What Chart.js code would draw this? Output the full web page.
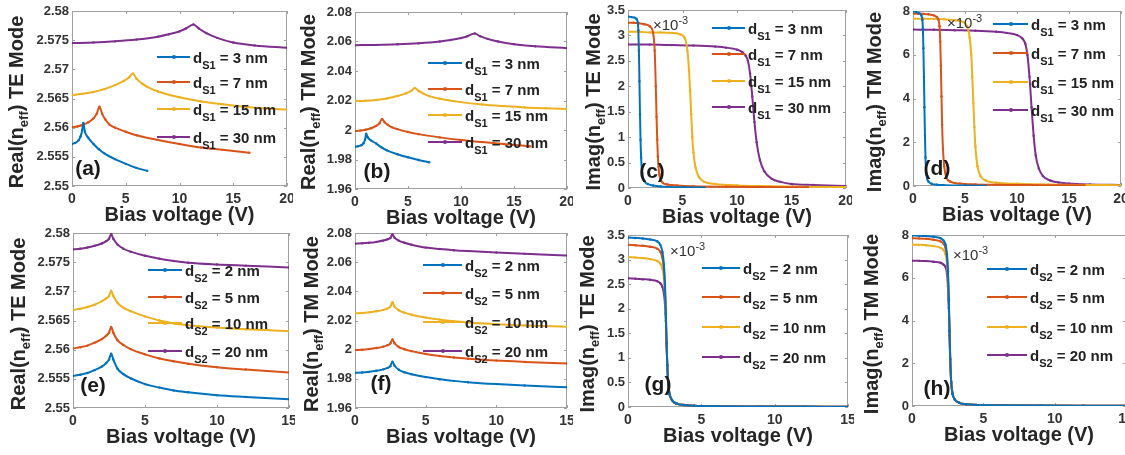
<!DOCTYPE html>
<html>
<head>
<meta charset="utf-8">
<script src="https://cdn.jsdelivr.net/npm/chart.js@4.4.1/dist/chart.umd.min.js"></script>
<style>
  html, body { margin: 0; padding: 0; background: #fff; width: 1125px; height: 455px; overflow: hidden; position: relative; }
  .pane { position: absolute; }
  .lg { position: absolute; height: 20px; display: flex; align-items: center; white-space: nowrap;
        font: bold 15px "Liberation Sans", Arial, sans-serif; color: #222; }
  .sw { height: 2px; position: relative; margin-right: 3px; }
  .sw i { position: absolute; left: 50%; top: 50%; width: 4px; height: 4px; border-radius: 50%; transform: translate(-50%, -50%); }
  .lg sub { font-size: 11px; vertical-align: -6px; line-height: 0; }
  .ytl { position: absolute; white-space: nowrap; transform: translate(-50%, -50%) rotate(-90deg);
         font: bold 20px "Liberation Sans", Arial, sans-serif; color: #262626; }
  .ytl sub { font-size: 13px; vertical-align: -5px; line-height: 0; }
  .tag { position: absolute; transform: translate(-50%, -50%); font: bold 21px "Liberation Sans", Arial, sans-serif; color: #1a1a1a; }
  .ex { position: absolute; transform: translateY(-50%); font: 15px "Liberation Sans", Arial, sans-serif; color: #333; white-space: nowrap; }
  .ex sup { font-size: 11px; vertical-align: 6px; line-height: 0; }
</style>
</head>
<body>
<script>
const COLORS = ['#0072BD', '#D95319', '#EDB120', '#7E2F8E'];
const FONT = '"Liberation Sans", Arial, Helvetica, sans-serif';

// legend categories (layer thickness, nm)
const s1Thick = ['3', '7', '15', '30'];
const s2Thick = ['2', '5', '10', '20'];

// tick values
const xTicks20 = [0, 5, 10, 15, 20];
const xTicks15 = [0, 5, 10, 15];
const yTicksReTE = [2.55, 2.555, 2.56, 2.565, 2.57, 2.575, 2.58];
const yTicksReTM = [1.96, 1.98, 2, 2.02, 2.04, 2.06, 2.08];
const yTicksImTE = [0, 0.5, 1, 1.5, 2, 2.5, 3, 3.5];
const yTicksImTM = [0, 2, 4, 6, 8];

// ---- top row: d_S1 sweep, real part ----
const xRe_S1_3  = [0, 0.3, 0.6, 0.8, 0.95, 1.05, 1.2, 1.5, 2, 2.5, 3, 4, 5, 6, 7];
const xRe_S1_7  = [0, 0.5, 1, 1.5, 2, 2.3, 2.55, 2.8, 3.1, 3.5, 4, 5, 6, 8, 10, 12, 14, 16.5];
const xRe_S1_15 = [0, 1, 2, 3, 4, 4.8, 5.3, 5.65, 6, 6.5, 7, 8, 10, 12, 14, 16, 18, 20];
const xRe_S1_30 = [0, 2, 4, 6, 8, 9, 10, 10.6, 11.3, 11.8, 12.5, 13.5, 15, 17, 20];

const reTE_S1_3  = [2.5572, 2.5574, 2.5578, 2.5585, 2.5596, 2.5608, 2.5593, 2.5583, 2.5572, 2.5563, 2.5556, 2.5546, 2.5538, 2.5531, 2.5526];
const reTE_S1_7  = [2.5601, 2.5602, 2.5605, 2.5609, 2.5616, 2.5624, 2.5636, 2.5624, 2.5614, 2.5605, 2.5600, 2.5593, 2.5587, 2.5579, 2.5572, 2.5566, 2.5562, 2.5557];
const reTE_S1_15 = [2.5656, 2.5658, 2.5661, 2.5666, 2.5673, 2.5680, 2.5686, 2.5693, 2.5684, 2.5676, 2.5670, 2.5662, 2.5652, 2.5645, 2.5640, 2.5636, 2.5633, 2.5631];
const reTE_S1_30 = [2.5745, 2.5746, 2.5748, 2.5751, 2.5756, 2.5760, 2.5765, 2.5770, 2.5777, 2.5770, 2.5762, 2.5754, 2.5746, 2.5741, 2.5737];

const reTM_S1_3  = [1.9887, 1.9890, 1.9897, 1.9910, 1.9935, 1.9975, 1.9950, 1.9930, 1.9908, 1.9882, 1.9862, 1.9836, 1.9815, 1.9797, 1.9781];
const reTM_S1_7  = [1.9993, 1.9996, 2.0002, 2.0012, 2.0028, 2.0045, 2.0075, 2.0052, 2.0035, 2.0018, 2.0006, 1.9987, 1.9972, 1.9950, 1.9932, 1.9918, 1.9905, 1.9890];
const reTM_S1_15 = [2.0195, 2.0198, 2.0204, 2.0214, 2.0230, 2.0248, 2.0265, 2.0285, 2.0265, 2.0245, 2.0230, 2.0212, 2.0189, 2.0173, 2.0162, 2.0153, 2.0147, 2.0142];
const reTM_S1_30 = [2.0575, 2.0577, 2.0581, 2.0588, 2.0600, 2.0610, 2.0624, 2.0636, 2.0655, 2.0636, 2.0618, 2.0600, 2.0582, 2.0568, 2.0555];

// ---- top row: d_S1 sweep, imaginary part (x 1e-3) ----
const xIm_S1_3  = [0, 0.3, 0.6, 0.8, 0.9, 0.95, 1.0, 1.05, 1.1, 1.15, 1.2, 1.3, 1.5, 1.8, 2.3, 3, 5, 7];
const xIm_S1_7  = [0, 0.5, 1, 1.5, 2, 2.3, 2.45, 2.55, 2.62, 2.68, 2.74, 2.8, 2.88, 3.0, 3.2, 3.6, 4.5, 6, 9, 12, 16.5];
const xIm_S1_15 = [0, 1, 2, 3, 4, 4.8, 5.2, 5.45, 5.6, 5.7, 5.8, 5.9, 6.0, 6.2, 6.5, 7, 8, 10, 13, 16, 20];
const xIm_S1_30 = [0, 2, 4, 6, 8, 9, 10, 10.5, 10.8, 11.0, 11.2, 11.4, 11.6, 11.8, 12.1, 12.5, 13.2, 14, 15, 17, 20];

const imTE_S1_3  = [3.37, 3.36, 3.35, 3.32, 3.25, 3.1, 2.7, 2.1, 1.45, 0.95, 0.6, 0.3, 0.14, 0.08, 0.05, 0.03, 0.015, 0.01];
const imTE_S1_7  = [3.25, 3.25, 3.24, 3.22, 3.18, 3.05, 2.7, 2.0, 1.4, 0.95, 0.62, 0.42, 0.26, 0.16, 0.1, 0.07, 0.05, 0.035, 0.025, 0.02, 0.015];
const imTE_S1_15 = [3.07, 3.07, 3.06, 3.06, 3.05, 3.02, 2.95, 2.7, 2.3, 1.9, 1.45, 1.0, 0.7, 0.4, 0.22, 0.12, 0.08, 0.05, 0.035, 0.025, 0.02];
const imTE_S1_30 = [2.82, 2.82, 2.81, 2.80, 2.78, 2.76, 2.72, 2.67, 2.6, 2.5, 2.25, 1.8, 1.3, 0.9, 0.55, 0.33, 0.18, 0.12, 0.08, 0.06, 0.04];

const imTM_S1_3  = [7.98, 7.95, 7.9, 7.8, 7.6, 7.2, 6.3, 5.0, 3.6, 2.3, 1.3, 0.5, 0.2, 0.1, 0.06, 0.04, 0.02, 0.015];
const imTM_S1_7  = [7.88, 7.88, 7.87, 7.85, 7.8, 7.72, 7.6, 7.3, 6.6, 5.5, 4.1, 2.8, 1.7, 0.9, 0.4, 0.2, 0.11, 0.07, 0.05, 0.04, 0.03];
const imTM_S1_15 = [7.65, 7.65, 7.64, 7.62, 7.58, 7.5, 7.3, 6.8, 6.0, 5.0, 3.8, 2.7, 1.8, 0.9, 0.45, 0.25, 0.15, 0.1, 0.07, 0.05, 0.04];
const imTM_S1_30 = [7.15, 7.14, 7.12, 7.1, 7.05, 7.0, 6.9, 6.75, 6.5, 6.0, 5.0, 3.6, 2.3, 1.4, 0.8, 0.45, 0.25, 0.16, 0.11, 0.07, 0.05];

// ---- bottom row: d_S2 sweep ----
const xRe_S2 = [0, 0.5, 1, 1.5, 2, 2.3, 2.5, 2.65, 2.8, 3.1, 3.5, 4, 5, 6, 7, 8, 10, 12, 15];
const reTE_S2_2  = [2.5555, 2.5557, 2.5560, 2.5565, 2.5571, 2.5577, 2.5583, 2.5593, 2.5583, 2.5567, 2.5558, 2.5551, 2.5541, 2.5535, 2.5530, 2.5527, 2.5522, 2.5519, 2.5515];
const reTE_S2_5  = [2.5602, 2.5604, 2.5607, 2.5612, 2.5618, 2.5624, 2.5629, 2.5639, 2.5629, 2.5616, 2.5608, 2.5601, 2.5592, 2.5585, 2.5580, 2.5576, 2.5570, 2.5566, 2.5561];
const reTE_S2_10 = [2.5668, 2.5670, 2.5673, 2.5677, 2.5683, 2.5688, 2.5692, 2.5701, 2.5692, 2.5680, 2.5672, 2.5666, 2.5657, 2.5650, 2.5645, 2.5642, 2.5638, 2.5635, 2.5632];
const reTE_S2_20 = [2.5772, 2.5773, 2.5775, 2.5778, 2.5782, 2.5786, 2.5790, 2.5798, 2.5790, 2.5780, 2.5773, 2.5768, 2.5761, 2.5756, 2.5752, 2.5749, 2.5746, 2.5744, 2.5741];

const reTM_S2_2  = [1.9841, 1.9843, 1.9848, 1.9855, 1.9865, 1.9875, 1.9887, 1.9918, 1.9890, 1.9862, 1.9845, 1.9832, 1.9812, 1.9797, 1.9786, 1.9777, 1.9764, 1.9754, 1.9742];
const reTM_S2_5  = [1.9997, 1.9999, 2.0004, 2.0011, 2.0021, 2.0031, 2.0042, 2.0070, 2.0044, 2.0018, 2.0003, 1.9990, 1.9971, 1.9957, 1.9946, 1.9938, 1.9925, 1.9916, 1.9905];
const reTM_S2_10 = [2.0249, 2.0251, 2.0256, 2.0263, 2.0273, 2.0283, 2.0295, 2.0325, 2.0296, 2.0270, 2.0254, 2.0240, 2.0220, 2.0206, 2.0195, 2.0187, 2.0175, 2.0166, 2.0157];
const reTM_S2_20 = [2.0727, 2.0729, 2.0733, 2.0739, 2.0748, 2.0757, 2.0766, 2.0790, 2.0768, 2.0748, 2.0733, 2.0720, 2.0700, 2.0690, 2.0682, 2.0676, 2.0666, 2.0657, 2.0645];

const xIm_S2 = [0, 0.5, 1, 1.5, 2, 2.2, 2.35, 2.45, 2.52, 2.58, 2.63, 2.68, 2.75, 2.85, 3.0, 3.3, 3.8, 4.5, 6, 9, 12, 15];
const imTE_S2_2  = [3.45, 3.44, 3.43, 3.41, 3.37, 3.3, 3.15, 2.9, 2.5, 1.9, 1.3, 0.85, 0.45, 0.25, 0.14, 0.07, 0.04, 0.025, 0.015, 0.01, 0.008, 0.006];
const imTE_S2_5  = [3.30, 3.29, 3.28, 3.26, 3.22, 3.16, 3.03, 2.8, 2.45, 1.9, 1.3, 0.85, 0.45, 0.25, 0.14, 0.07, 0.04, 0.025, 0.015, 0.01, 0.008, 0.006];
const imTE_S2_10 = [3.05, 3.04, 3.03, 3.01, 2.97, 2.92, 2.82, 2.62, 2.3, 1.85, 1.3, 0.85, 0.45, 0.25, 0.14, 0.07, 0.04, 0.025, 0.015, 0.01, 0.008, 0.006];
const imTE_S2_20 = [2.62, 2.61, 2.60, 2.59, 2.56, 2.52, 2.44, 2.3, 2.1, 1.75, 1.25, 0.85, 0.45, 0.25, 0.14, 0.07, 0.04, 0.025, 0.015, 0.01, 0.008, 0.006];

const imTM_S2_2  = [7.98, 7.97, 7.95, 7.92, 7.85, 7.75, 7.55, 7.1, 6.3, 5.0, 3.5, 2.2, 1.1, 0.55, 0.3, 0.15, 0.08, 0.05, 0.03, 0.02, 0.015, 0.012];
const imTM_S2_5  = [7.85, 7.84, 7.82, 7.78, 7.7, 7.6, 7.4, 7.0, 6.2, 4.9, 3.5, 2.2, 1.1, 0.55, 0.3, 0.15, 0.08, 0.05, 0.03, 0.02, 0.015, 0.012];
const imTM_S2_10 = [7.55, 7.54, 7.52, 7.48, 7.4, 7.3, 7.1, 6.7, 6.0, 4.8, 3.4, 2.2, 1.1, 0.55, 0.3, 0.15, 0.08, 0.05, 0.03, 0.02, 0.015, 0.012];
const imTM_S2_20 = [6.8, 6.79, 6.78, 6.75, 6.7, 6.62, 6.5, 6.2, 5.6, 4.6, 3.3, 2.1, 1.1, 0.55, 0.3, 0.15, 0.08, 0.05, 0.03, 0.02, 0.015, 0.012];

// box + inward ticks, MATLAB style
const boxPlugin = {
  id: 'box',
  beforeDatasetsDraw(chart) {
    const { ctx, chartArea: a, scales } = chart;
    ctx.save();
    ctx.strokeStyle = '#a0a0a0';
    ctx.lineWidth = 1;
    ctx.strokeRect(a.left + 0.5, a.top + 0.5, a.right - a.left - 1, a.bottom - a.top - 1);
    ctx.beginPath();
    scales.x.ticks.forEach(t => {
      const px = Math.round(scales.x.getPixelForValue(t.value)) + 0.5;
      ctx.moveTo(px, a.bottom); ctx.lineTo(px, a.bottom - 3);
      ctx.moveTo(px, a.top); ctx.lineTo(px, a.top + 3);
    });
    scales.y.ticks.forEach(t => {
      const py = Math.round(scales.y.getPixelForValue(t.value)) + 0.5;
      ctx.moveTo(a.left, py); ctx.lineTo(a.left + 3, py);
      ctx.moveTo(a.right, py); ctx.lineTo(a.right - 3, py);
    });
    ctx.stroke();
    ctx.restore();
  }
};

function series(xs, ys, i) {
  return {
    data: xs.map((x, k) => ({ x: x, y: ys[k] })),
    borderColor: COLORS[i],
    backgroundColor: COLORS[i],
    borderWidth: 2,
    pointRadius: 1.2,
    pointBorderWidth: 0,
    pointBackgroundColor: COLORS[i],
    cubicInterpolationMode: 'monotone',
    fill: false
  };
}

const Y_W = 50, PAD_T = 8, PAD_R = 6, X_H = 41;

function makePanel(g, xTicks, yTicks, datasets) {
  const div = document.createElement('div');
  div.className = 'pane';
  div.style.left = (g.L - Y_W) + 'px';
  div.style.top = (g.T - PAD_T) + 'px';
  div.style.width = (g.R - g.L + Y_W + PAD_R) + 'px';
  div.style.height = (g.B - g.T + PAD_T + X_H) + 'px';
  const cv = document.createElement('canvas');
  div.appendChild(cv);
  document.body.appendChild(div);

  new Chart(cv, {
    type: 'line',
    data: { datasets: datasets },
    options: {
      responsive: true,
      maintainAspectRatio: false,
      animation: false,
      layout: { padding: { top: PAD_T, right: PAD_R, bottom: 0, left: 0 } },
      plugins: { legend: { display: false }, tooltip: { enabled: false } },
      scales: {
        x: {
          type: 'linear',
          min: xTicks[0], max: xTicks[xTicks.length - 1],
          afterBuildTicks: s => { s.ticks = xTicks.map(v => ({ value: v })); },
          afterFit: s => { s.height = X_H; s.paddingLeft = 0; s.paddingRight = 0; },
          grid: { display: false, drawTicks: false },
          border: { display: false },
          ticks: { padding: 5, color: '#333', maxRotation: 0, autoSkip: false, font: { family: FONT, size: 14, weight: 'bold' } },
          title: { display: true, text: 'Bias voltage (V)', color: '#262626', padding: 0,
                   font: { family: FONT, size: 20, weight: 'bold' } }
        },
        y: {
          type: 'linear',
          min: yTicks[0], max: yTicks[yTicks.length - 1],
          afterBuildTicks: s => { s.ticks = yTicks.map(v => ({ value: v })); },
          afterFit: s => { s.width = Y_W; s.paddingTop = 0; s.paddingBottom = 0; },
          grid: { display: false, drawTicks: false },
          border: { display: false },
          ticks: { padding: 3, color: '#333', autoSkip: false, callback: v => String(v),
                   font: { family: FONT, size: 13, weight: 'bold' } }
        }
      }
    },
    plugins: [boxPlugin]
  });
}

function addLegend(x0, x1, rows, sub, labels) {
  labels.forEach((lab, i) => {
    const row = document.createElement('div');
    row.className = 'lg';
    row.style.left = x0 + 'px';
    row.style.top = (rows[i] - 10) + 'px';
    row.innerHTML = '<span class="sw" style="width:' + (x1 - x0) + 'px;background:' + COLORS[i] + '"><i style="background:' + COLORS[i] + '"></i></span>'
      + '<span>d<sub>' + sub + '</sub> = ' + lab + ' nm</span>';
    document.body.appendChild(row);
  });
}

function addYTitle(cx, cy, kind, mode) {
  const d = document.createElement('div');
  d.className = 'ytl';
  d.style.left = cx + 'px';
  d.style.top = cy + 'px';
  d.innerHTML = kind + '(n<sub>eff</sub>) ' + mode + ' Mode';
  document.body.appendChild(d);
}

function addTag(cx, cy, txt) {
  const d = document.createElement('div');
  d.className = 'tag';
  d.style.left = cx + 'px';
  d.style.top = cy + 'px';
  d.textContent = txt;
  document.body.appendChild(d);
}

function addExp(x, cy) {
  const d = document.createElement('div');
  d.className = 'ex';
  d.style.left = x + 'px';
  d.style.top = cy + 'px';
  d.innerHTML = '\u00d710<sup>-3</sup>';
  document.body.appendChild(d);
}

// (a)
makePanel({ L: 72, R: 287, T: 11, B: 186 }, xTicks20, yTicksReTE, [
  series(xRe_S1_3, reTE_S1_3, 0), series(xRe_S1_7, reTE_S1_7, 1),
  series(xRe_S1_15, reTE_S1_15, 2), series(xRe_S1_30, reTE_S1_30, 3)]);
// (b)
makePanel({ L: 355, R: 567, T: 12, B: 189 }, xTicks20, yTicksReTM, [
  series(xRe_S1_3, reTM_S1_3, 0), series(xRe_S1_7, reTM_S1_7, 1),
  series(xRe_S1_15, reTM_S1_15, 2), series(xRe_S1_30, reTM_S1_30, 3)]);
// (c)
makePanel({ L: 628, R: 846, T: 10, B: 188 }, xTicks20, yTicksImTE, [
  series(xIm_S1_3, imTE_S1_3, 0), series(xIm_S1_7, imTE_S1_7, 1),
  series(xIm_S1_15, imTE_S1_15, 2), series(xIm_S1_30, imTE_S1_30, 3)]);
// (d)
makePanel({ L: 913, R: 1121, T: 11, B: 186 }, xTicks20, yTicksImTM, [
  series(xIm_S1_3, imTM_S1_3, 0), series(xIm_S1_7, imTM_S1_7, 1),
  series(xIm_S1_15, imTM_S1_15, 2), series(xIm_S1_30, imTM_S1_30, 3)]);
// (e)
makePanel({ L: 73, R: 289, T: 233, B: 408 }, xTicks15, yTicksReTE, [
  series(xRe_S2, reTE_S2_2, 0), series(xRe_S2, reTE_S2_5, 1),
  series(xRe_S2, reTE_S2_10, 2), series(xRe_S2, reTE_S2_20, 3)]);
// (f)
makePanel({ L: 355, R: 567, T: 233, B: 408 }, xTicks15, yTicksReTM, [
  series(xRe_S2, reTM_S2_2, 0), series(xRe_S2, reTM_S2_5, 1),
  series(xRe_S2, reTM_S2_10, 2), series(xRe_S2, reTM_S2_20, 3)]);
// (g)
makePanel({ L: 628, R: 848, T: 235, B: 407 }, xTicks15, yTicksImTE, [
  series(xIm_S2, imTE_S2_2, 0), series(xIm_S2, imTE_S2_5, 1),
  series(xIm_S2, imTE_S2_10, 2), series(xIm_S2, imTE_S2_20, 3)]);
// (h)
makePanel({ L: 912, R: 1126, T: 235, B: 406 }, xTicks15, yTicksImTM, [
  series(xIm_S2, imTM_S2_2, 0), series(xIm_S2, imTM_S2_5, 1),
  series(xIm_S2, imTM_S2_10, 2), series(xIm_S2, imTM_S2_20, 3)]);

// axis titles
addYTitle(16, 102, 'Real', 'TE');
addYTitle(308, 102, 'Real', 'TM');
addYTitle(593, 102, 'Imag', 'TE');
addYTitle(874, 102, 'Imag', 'TM');
addYTitle(18, 324, 'Real', 'TE');
addYTitle(311, 324, 'Real', 'TM');
addYTitle(587, 324, 'Imag', 'TE');
addYTitle(871, 324, 'Imag', 'TM');

// legends
addLegend(157, 190, [57, 82, 109, 137], 'S1', s1Thick);
addLegend(428, 462, [63, 89, 115, 142], 'S1', s1Thick);
addLegend(712, 745, [28, 54, 81, 107], 'S1', s1Thick);
addLegend(993, 1028, [24, 53, 82, 110], 'S1', s1Thick);
addLegend(148, 182, [270, 297, 323, 351], 'S2', s2Thick);
addLegend(423, 462, [265, 293, 322, 351], 'S2', s2Thick);
addLegend(702, 740, [268, 297, 327, 357], 'S2', s2Thick);
addLegend(987, 1027, [269, 297, 327, 355], 'S2', s2Thick);

// panel letters
addTag(88, 168, '(a)');
addTag(377, 171, '(b)');
addTag(652, 171, '(c)');
addTag(937, 168, '(d)');
addTag(93, 385, '(e)');
addTag(381, 383, '(f)');
addTag(658, 384, '(g)');
addTag(937, 388, '(h)');

// exponent notes
addExp(653, 24);
addExp(947, 22);
addExp(670, 250);
addExp(953, 254);
</script>
</body>
</html>
